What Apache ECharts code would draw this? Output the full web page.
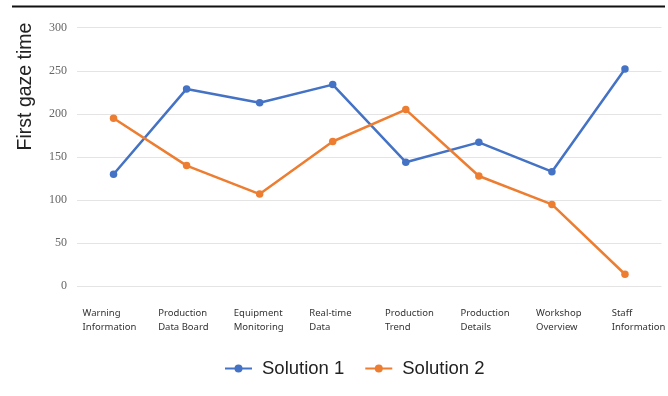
<!DOCTYPE html>
<html>
<head>
<meta charset="utf-8">
<script src="https://cdn.jsdelivr.net/npm/echarts@6/dist/echarts.min.js"></script>
<style>
  html, body { margin: 0; padding: 0; background: #ffffff; }
  #chart { width: 668px; height: 396px; }
</style>
</head>
<body>
<div id="chart"></div>
<script>
// Interface areas shown along the x axis
const categories = [
  'Warning\nInformation', 'Production\nData Board', 'Equipment\nMonitoring', 'Real-time\nData',
  'Production\nTrend', 'Production\nDetails', 'Workshop\nOverview', 'Staff\nInformation'
];
// First gaze time per area for each design solution
const solution1 = [130, 229, 213, 234, 144, 167, 133, 252];
const solution2 = [195, 140, 107, 168, 205, 128, 95, 14];
const seriesNames = ['Solution 1', 'Solution 2'];
const yTicks = { min: 0, max: 300, interval: 50 };

const chart = echarts.init(document.getElementById('chart'), null, { renderer: 'canvas' });

const lineStyleFor = (color) => ({
  type: 'line',
  symbol: 'circle',
  symbolSize: 7.5,
  lineStyle: { width: 2.5, color },
  itemStyle: { color },
  emphasis: { disabled: true }
});

chart.setOption({
  animation: false,
  color: ['#4472C4', '#ED7D31'],
  graphic: [
    {
      type: 'line',
      shape: { x1: 12, y1: 6.5, x2: 665, y2: 6.5 },
      style: { stroke: '#111', lineWidth: 2 }
    },
    {
      type: 'text',
      x: 26, y: 86.5,
      rotation: Math.PI / 2,
      style: {
        text: 'First gaze time',
        font: '19.5px "Liberation Sans", Arial, sans-serif',
        fill: '#222',
        align: 'center',
        verticalAlign: 'middle'
      }
    }
  ],
  grid: [
    { left: 77, right: 6.5, top: 27.7, bottom: 109.7 },
    // label strip below the plot
    { left: 44.8, right: 12, top: 306, bottom: 84 }
  ],
  legend: {
    data: seriesNames,
    left: 219,
    top: 354,
    itemWidth: 27,
    itemHeight: 10,
    itemGap: 20,
    textStyle: {
      fontSize: 18.5,
      color: '#222',
      padding: [0, 0, 0, 5],
      fontFamily: '"Liberation Sans", Arial, sans-serif'
    }
  },
  xAxis: [
    {
      type: 'category',
      gridIndex: 0,
      data: categories,
      boundaryGap: true,
      axisLine: { show: false },
      axisTick: { show: false },
      axisLabel: { show: false }
    },
    {
      type: 'category',
      gridIndex: 1,
      data: categories,
      boundaryGap: true,
      position: 'top',
      axisLine: { show: false },
      axisTick: { show: false },
      axisLabel: {
        show: true,
        interval: 0,
        align: 'left',
        margin: 0,
        verticalAlign: 'top',
        fontSize: 9.5,
        lineHeight: 14,
        color: '#333',
        fontFamily: '"Noto Sans", "Liberation Sans", sans-serif'
      }
    }
  ],
  yAxis: [
    {
      type: 'value',
      gridIndex: 0,
      min: yTicks.min,
      max: yTicks.max,
      interval: yTicks.interval,
      axisLine: { show: false },
      axisTick: { show: false },
      splitLine: { lineStyle: { color: '#e4e4e4', width: 1.2 } },
      axisLabel: {
        margin: 10,
        fontSize: 12,
        color: '#666',
        fontFamily: '"Liberation Serif", "DejaVu Serif", serif'
      }
    },
    {
      type: 'value',
      gridIndex: 1,
      show: false
    }
  ],
  series: [
    Object.assign({ name: seriesNames[0], data: solution1, xAxisIndex: 0, yAxisIndex: 0 }, lineStyleFor('#4472C4')),
    Object.assign({ name: seriesNames[1], data: solution2, xAxisIndex: 0, yAxisIndex: 0 }, lineStyleFor('#ED7D31'))
  ]
});
</script>
</body>
</html>
